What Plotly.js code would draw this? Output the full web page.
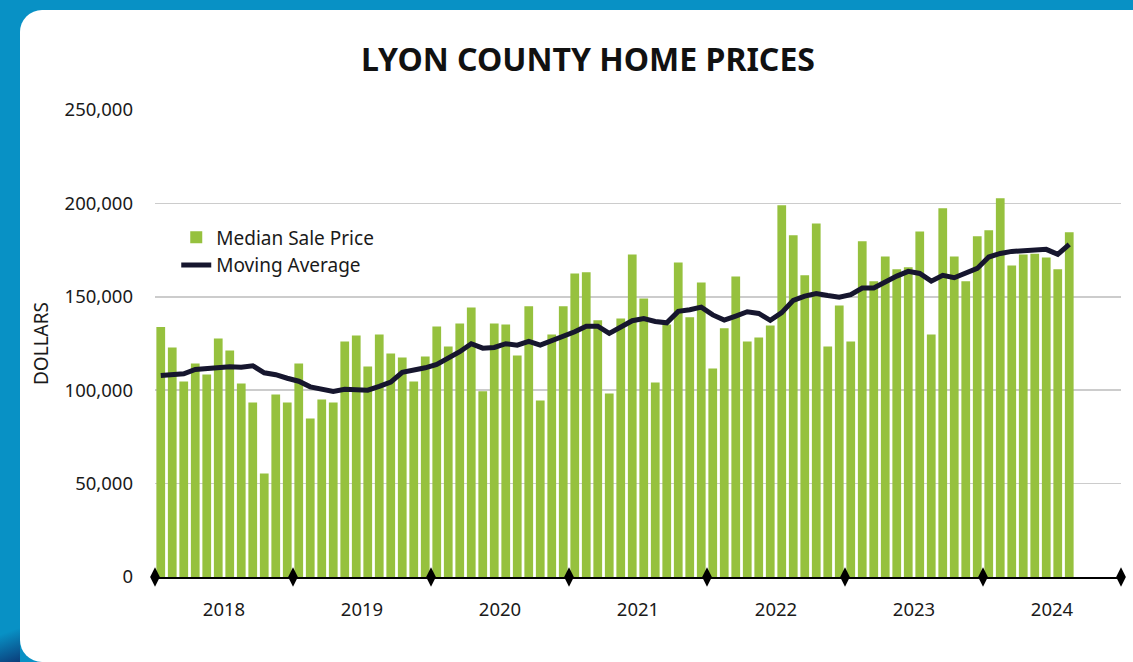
<!DOCTYPE html>
<html>
<head>
<meta charset="utf-8">
<script src="https://cdn.plot.ly/plotly-3.0.1.min.js"></script>
<style>
  html, body { margin:0; padding:0; width:1133px; height:662px; overflow:hidden; background:#0891c5; }
  #card { position:absolute; left:20px; top:10px; width:1200px; height:652px; background:#ffffff; border-radius:22px; }
  #shade { position:absolute; left:0; top:620px; width:20px; height:42px; background:linear-gradient(160deg, #0891c5 30%, #0b3d7a 100%); }
  #chart { position:absolute; left:0; top:0; width:1133px; height:662px; }
</style>
</head>
<body>
<div id="shade"></div>
<div id="card"></div>
<div id="chart"></div>
<script>
// Years shown on the axis
const years = ['2018','2019','2020','2021','2022','2023','2024'];

// Month labels for each observation (Jan 2018 – Aug 2024)
const months = [
  '2018-01','2018-02','2018-03','2018-04','2018-05','2018-06','2018-07','2018-08','2018-09','2018-10','2018-11','2018-12',
  '2019-01','2019-02','2019-03','2019-04','2019-05','2019-06','2019-07','2019-08','2019-09','2019-10','2019-11','2019-12',
  '2020-01','2020-02','2020-03','2020-04','2020-05','2020-06','2020-07','2020-08','2020-09','2020-10','2020-11','2020-12',
  '2021-01','2021-02','2021-03','2021-04','2021-05','2021-06','2021-07','2021-08','2021-09','2021-10','2021-11','2021-12',
  '2022-01','2022-02','2022-03','2022-04','2022-05','2022-06','2022-07','2022-08','2022-09','2022-10','2022-11','2022-12',
  '2023-01','2023-02','2023-03','2023-04','2023-05','2023-06','2023-07','2023-08','2023-09','2023-10','2023-11','2023-12',
  '2024-01','2024-02','2024-03','2024-04','2024-05','2024-06','2024-07','2024-08'
];

// Median sale price (dollars)
const medianSalePrice = [
  133800,122900,104700,114300,108400,127700,121300,103600,93400,55400,97700,93400,
  114300,84800,95000,93400,126100,129300,112700,129800,119700,117500,104700,118100,
  134100,123400,135700,144300,99500,135700,135200,118600,144900,94500,129800,144900,
  162500,163100,137400,98200,138400,172700,149100,104100,135200,168400,139000,157700,
  111600,133100,160900,126100,128200,134700,199000,182900,161500,189300,123400,145400,
  126100,179700,158300,171600,164700,165800,185000,129800,197400,171600,158300,182400,
  185600,202700,166800,172700,173100,171100,164700,184500
];

// Moving average (dollars)
const movingAverage = [
  107900,108300,108800,111100,111500,112500,112500,112300,113100,109300,108300,106400,
  104800,101800,100700,99300,100500,100500,100000,102000,104300,109600,110600,112000,
  113800,117000,120600,124900,122500,122900,124900,124100,126100,124100,126300,128900,
  131300,134300,134300,130400,134000,137200,138300,136800,136100,142200,143100,144500,
  140300,137500,139700,142000,141100,137400,141500,148100,150400,151800,150700,149800,
  151100,154700,154700,158100,161100,163600,162500,158400,161500,160200,162500,165200,
  171300,173200,174300,174500,175000,175400,172700,178100
];

const yTicks = [0, 50000, 100000, 150000, 200000, 250000];
const yTickText = ['0','50,000','100,000','150,000','200,000','250,000'];

// position of each month on a linear month axis (month index from Jan 2018, centred)
const startYear = parseInt(years[0], 10);
function monthPos(m) {
  const [y, mo] = m.split('-').map(Number);
  return (y - startYear) * 12 + (mo - 1) + 0.5;
}
const xPos = months.map(monthPos);
const yearCenters = years.map((y, i) => i * 12 + 6);
const yearBounds = years.concat([String(startYear + years.length)]).map((y, i) => i * 12);

const FONT = '"Noto Sans", "Open Sans", sans-serif';
const TXT = '#1a1a1a';

const traces = [
  {
    type: 'bar', name: 'Median Sale Price', x: xPos, y: medianSalePrice,
    marker: { color: '#96c13e' }, width: 0.76, hoverinfo: 'y'
  },
  {
    type: 'scatter', mode: 'lines', name: 'Moving Average', x: xPos, y: movingAverage,
    line: { color: '#16162e', width: 5, shape: 'linear' }, hoverinfo: 'y'
  },
  {
    type: 'scatter', mode: 'markers', x: yearBounds, y: yearBounds.map(() => 0),
    marker: { symbol: 'diamond-tall', size: 14, color: '#000000' },
    cliponaxis: false, showlegend: false, hoverinfo: 'skip'
  }
];

const layout = {
  width: 1133, height: 662,
  paper_bgcolor: 'rgba(0,0,0,0)', plot_bgcolor: 'rgba(0,0,0,0)',
  margin: { l: 155, r: 12, t: 110, b: 85 },
  font: { family: FONT, color: TXT, size: 18 },
  title: {
    text: '<b>LYON COUNTY HOME PRICES</b>',
    font: { family: FONT, size: 32, color: '#111111' },
    x: 0.519, xanchor: 'center', y: 0.909, yanchor: 'middle', xref: 'container', yref: 'container'
  },
  xaxis: {
    type: 'linear', range: [0, years.length * 12],
    tickvals: yearCenters, ticktext: years, ticks: '',
    showgrid: false, zeroline: false,
    showline: true, linecolor: '#000000', linewidth: 2,
    tickfont: { family: FONT, size: 18.5, color: TXT },
    ticklabelstandoff: 15, fixedrange: true
  },
  yaxis: {
    range: [0, 250000], tickvals: yTicks, ticktext: yTickText,
    showgrid: true, gridcolor: '#cccccc', gridwidth: 1.5, zeroline: false,
    tickfont: { family: FONT, size: 18.5, color: TXT },
    ticklabelstandoff: 21, automargin: false,
    title: { text: 'DOLLARS', font: { family: FONT, size: 19, color: TXT }, standoff: 10 },
    fixedrange: true
  },
  legend: {
    x: 0.022, y: 0.768, xanchor: 'left', yanchor: 'top',
    bgcolor: 'rgba(0,0,0,0)', font: { family: FONT, size: 19, color: TXT },
    tracegroupgap: 0, itemwidth: 30
  },
  bargap: 0.24, showlegend: true
};

Plotly.newPlot('chart', traces, layout, { displayModeBar: false, staticPlot: true });
</script>
</body>
</html>
